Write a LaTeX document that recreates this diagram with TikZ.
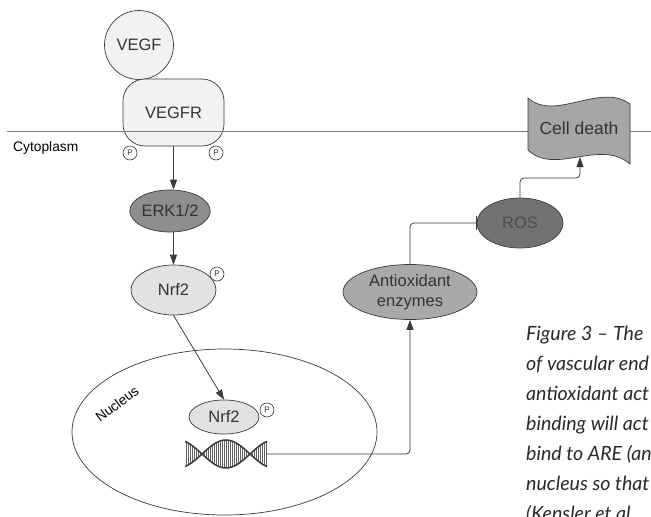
\documentclass[tikz,border=0pt]{standalone}
\usepackage{fontspec}
\setmainfont{Liberation Sans}
\newfontfamily\capfont[Ligatures=TeX]{Lato}
\usetikzlibrary{arrows.meta,shapes.geometric}
\definecolor{lineC}{HTML}{3A3A3A}
\definecolor{membC}{HTML}{7A7A7A}
\definecolor{txtC}{HTML}{333333}
\definecolor{lightF}{HTML}{F2F2F2}
\definecolor{nrfF}{HTML}{E2E2E2}
\definecolor{erkF}{HTML}{8E8E8E}
\definecolor{antF}{HTML}{A9A9A9}
\definecolor{rosF}{HTML}{727272}
\definecolor{cdF}{HTML}{A6A6A6}
\definecolor{capC}{HTML}{2A2A2A}
\begin{document}
\begin{tikzpicture}[x=1pt,y=-1pt,
  ent/.style={draw=lineC, line width=0.7pt, text=txtC, inner sep=0pt,
    font=\fontsize{16.5}{19}\selectfont},
  oval/.style={ent, ellipse},
  pcirc/.style={circle, draw=lineC, line width=0.6pt, fill=white, minimum size=14pt,
    inner sep=0pt, font=\fontsize{8}{8}\selectfont, text=txtC},
  conn/.style={draw=lineC, line width=0.8pt},
  arr/.style={conn, -{Triangle[length=10pt,width=7pt]}},
  inh/.style={conn, -{Bar[width=14pt,line width=0.8pt]}},
  memb/.style={draw=membC, line width=0.8pt},
  lbl/.style={font=\fontsize{13.8}{15}\selectfont, text=black, inner sep=0pt},
  captxt/.style={anchor=base west, inner sep=0pt, text=capC,
    font=\capfont\itshape\fontsize{19.6}{20}\selectfont},
  strand/.style={draw=lineC, line width=1.5pt},
  hatch/.style={draw=lineC!80, line width=0.45pt}
]
\useasboundingbox (0,0) rectangle (651,517);
\fill[white] (0,0) rectangle (651,517);

% nucleus
\node[draw=lineC, line width=0.7pt, ellipse, minimum width=305pt, minimum height=166pt,
  inner sep=0pt] (nucleus) at (224.5,432) {};
\node[lbl, rotate=37] (nuclbl) at (117,404) {Nucleus};

% ligand and receptor
\node[ent, circle, fill=lightF, minimum size=69pt] (vegf) at (139,45) {VEGF};
\node[ent, rectangle, rounded corners=22pt, fill=lightF, minimum width=101pt,
  minimum height=67pt] (vegfr) at (173.5,112.5) {VEGFR};

% membrane
\coordinate (mL) at (7,131);
\coordinate (cdL) at (528,131);
\coordinate (cdR) at (630,131);
\coordinate (mR) at (651,131);
\draw[memb] (mL) -- (cdL);
\draw[memb] (cdR) -- (mR);
\node[lbl, anchor=west] (cyto) at (13,148) {Cytoplasm};

% phosphates
\node[pcirc] (p1) at (130,153) {P};
\node[pcirc] (p2) at (216,153) {P};

% cytoplasm nodes
\node[oval, fill=erkF, minimum width=76pt, minimum height=42pt] (erk) at (170,211) {ERK1/2};
\node[oval, fill=nrfF, minimum width=85pt, minimum height=50pt] (nrf) at (173.5,290) {Nrf2};
\node[pcirc] (p3) at (217,274) {P};

% nucleus nodes
\node[oval, fill=nrfF, minimum width=70pt, minimum height=34pt] (nrfn) at (224,417) {Nrf2};
\node[pcirc] (p4) at (267,410) {P};

% DNA
\node[inner sep=0pt, minimum width=82pt, minimum height=28pt] (dna) at (226,454) {};
\foreach \xx in {186,188,...,266} {
  \draw[hatch] (\xx,{454+13.5*sin(180*(\xx-202)/48)}) -- (\xx,{454-13.5*sin(180*(\xx-202)/48)});
}
\draw[strand] plot[domain=185:267, samples=80, smooth] (\x,{454+14*sin(180*(\x-202)/48)});
\draw[strand] plot[domain=185:267, samples=80, smooth] (\x,{454-14*sin(180*(\x-202)/48)});

% right side nodes
\node[oval, fill=antF, minimum width=134pt, minimum height=55pt, align=center,
  font=\fontsize{16.5}{20}\selectfont] (antiox) at (410,292) {Antioxidant\\enzymes};
\node[oval, fill=rosF, minimum width=86pt, minimum height=50pt, text=black!70] (ros) at (520,223) {ROS};

% cell death (tape shape)
\draw[draw=lineC, line width=0.7pt, fill=cdF]
  (528,98) .. controls (555,122) and (600,82) .. (630,104) -- (630,164)
  .. controls (600,138) and (555,176) .. (528,150) -- cycle;
\node[font=\fontsize{17.5}{20}\selectfont, text=txtC, inner sep=0pt] (cd) at (579,128) {Cell death};
\coordinate (cdB) at (580,157);
\coordinate (rc) at (580,178);

% connectors
\draw[arr] (vegfr.south) -- (vegfr.south |- erk.north);
\draw[arr] (nrf.north |- erk.south) -- (nrf.north);
\draw[arr] (nrf.south) -- (nrfn.north);
\draw[arr, rounded corners=4pt] (dna.east) -| (antiox.south);
\draw[inh, rounded corners=4pt] (antiox.north) |- (ros.west);
\draw[arr, rounded corners=4pt] (ros.north) |- (rc) -- (cdB);

% caption (clipped at the page edge)
\begin{scope}
\clip (0,0) rectangle (651,517);
\node[captxt] (c1) at (526,340) {Figure 3 – The};
\node[captxt] (c2) at (526,370) {of vascular end};
\node[captxt] (c3) at (526,400) {antioxidant act};
\node[captxt] (c4) at (526,430) {binding will act};
\node[captxt] (c5) at (526,460) {bind to ARE (an};
\node[captxt] (c6) at (526,490) {nucleus so that};
\node[captxt] (c7) at (526,520) {(Kensler et al.};
\end{scope}
\end{tikzpicture}
\end{document}
